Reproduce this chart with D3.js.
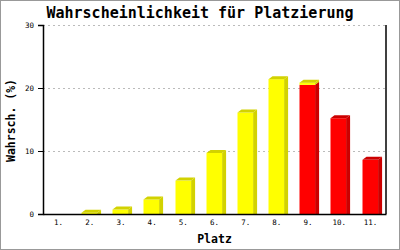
<!DOCTYPE html>
<html>
<head>
<meta charset="utf-8">
<script src="https://cdn.jsdelivr.net/npm/d3@7"></script>
<style>
  body { margin: 0; background: #fff; }
  svg { display: block; }
</style>
</head>
<body>
<div id="chart"></div>
<script>
// data
var places = ["1.", "2.", "3.", "4.", "5.", "6.", "7.", "8.", "9.", "10.", "11."];
var yellowValues = [0, 0.2, 0.7, 2.3, 5.3, 9.7, 16.1, 21.4, 0.35, 0, 0];
var redValues = [0, 0, 0, 0, 0, 0, 0, 0, 20.5, 15.2, 8.6];
var yTicks = [0, 10, 20, 30];

var W = 400, H = 250;
var plotLeft = 43, plotRight = 386, plotTop = 25, plotBottom = 214;
var dx = 4, dy = 3;
var mono = "'DejaVu Sans Mono', monospace";

var svg = d3.select("#chart").append("svg")
    .attr("width", W)
    .attr("height", H);

// outer frame
svg.append("rect")
    .attr("x", 0.5).attr("y", 0.5)
    .attr("width", W - 1).attr("height", H - 1)
    .attr("fill", "#fff")
    .attr("stroke", "#999");

var x = d3.scaleBand()
    .domain(places)
    .range([plotLeft, plotRight])
    .paddingInner(0.5)
    .paddingOuter(0.25);

var y = d3.scaleLinear()
    .domain([0, 30])
    .range([plotBottom, plotTop]);

// grid lines
svg.append("g")
    .selectAll("line")
    .data(yTicks.filter(function(d) { return d > 0; }))
    .enter()
    .append("line")
    .attr("x1", plotLeft).attr("x2", plotRight)
    .attr("y1", function(d) { return Math.round(y(d)) + 0.5; })
    .attr("y2", function(d) { return Math.round(y(d)) + 0.5; })
    .attr("stroke", "#bbb")
    .attr("stroke-dasharray", "2,3");

// stacked segments
var segments = [];
places.forEach(function(p, i) {
    var base = 0;
    var parts = [
        { v: redValues[i], front: "#ff0000", dark: "#cc0000" },
        { v: yellowValues[i], front: "#ffff00", dark: "#d2d200" }
    ];
    var nonZero = parts.filter(function(s) { return s.v > 0; });
    nonZero.forEach(function(s, k) {
        segments.push({
            place: p, y0: base, y1: base + s.v,
            front: s.front, dark: s.dark,
            isTop: k === nonZero.length - 1
        });
        base += s.v;
    });
});

var bars = svg.append("g");
var bw = x.bandwidth();

segments.forEach(function(s) {
    var x0 = Math.round(x(s.place)) - 0.5;
    var yt = y(s.y1), yb = y(s.y0);
    // side face
    bars.append("polygon")
        .attr("points", [
            [x0 + bw, yt], [x0 + bw + dx, yt - dy],
            [x0 + bw + dx, yb - (s.y0 === 0 ? 0 : dy)], [x0 + bw, yb]
        ].join(" "))
        .attr("fill", s.dark);
    // front face
    bars.append("rect")
        .attr("x", x0)
        .attr("y", yt)
        .attr("width", bw)
        .attr("height", yb - yt)
        .attr("fill", s.front);
    // top face
    if (s.isTop) {
        bars.append("polygon")
            .attr("points", [
                [x0, yt], [x0 + dx, yt - dy],
                [x0 + bw + dx, yt - dy], [x0 + bw, yt]
            ].join(" "))
            .attr("fill", s.dark);
    }
});

// axes
var yAxis = svg.append("g")
    .attr("transform", "translate(" + plotLeft + ",0)")
    .call(d3.axisLeft(y).tickValues(yTicks).tickSize(5).tickPadding(4));
yAxis.select(".domain").attr("stroke", "#000").attr("stroke-width", 1.5);
yAxis.selectAll("text").attr("font-family", mono).attr("font-size", "7.5px").attr("fill", "#000");

var xAxis = svg.append("g")
    .attr("transform", "translate(0," + plotBottom + ")")
    .call(d3.axisBottom(x).tickSize(0).tickPadding(6));
xAxis.select(".domain").attr("stroke", "#000").attr("stroke-width", 1.5);
xAxis.selectAll("text").attr("font-family", mono).attr("font-size", "7.5px").attr("fill", "#000");

// right border line
svg.append("line")
    .attr("x1", plotRight).attr("x2", plotRight)
    .attr("y1", plotTop).attr("y2", plotBottom)
    .attr("stroke", "#000").attr("stroke-width", 1.5);

// titles
svg.append("text")
    .attr("x", 200).attr("y", 18)
    .attr("text-anchor", "middle")
    .attr("font-family", mono)
    .attr("font-weight", "bold")
    .attr("font-size", "15px")
    .text("Wahrscheinlichkeit für Platzierung");

svg.append("text")
    .attr("x", (plotLeft + plotRight) / 2).attr("y", 243)
    .attr("text-anchor", "middle")
    .attr("font-family", mono)
    .attr("font-weight", "bold")
    .attr("font-size", "11.5px")
    .text("Platz");

svg.append("text")
    .attr("transform", "translate(15," + ((plotTop + plotBottom) / 2 + 1) + ") rotate(-90)")
    .attr("text-anchor", "middle")
    .attr("font-family", mono)
    .attr("font-weight", "bold")
    .attr("font-size", "11.5px")
    .text("Wahrsch. (%)");
</script>
</body>
</html>
